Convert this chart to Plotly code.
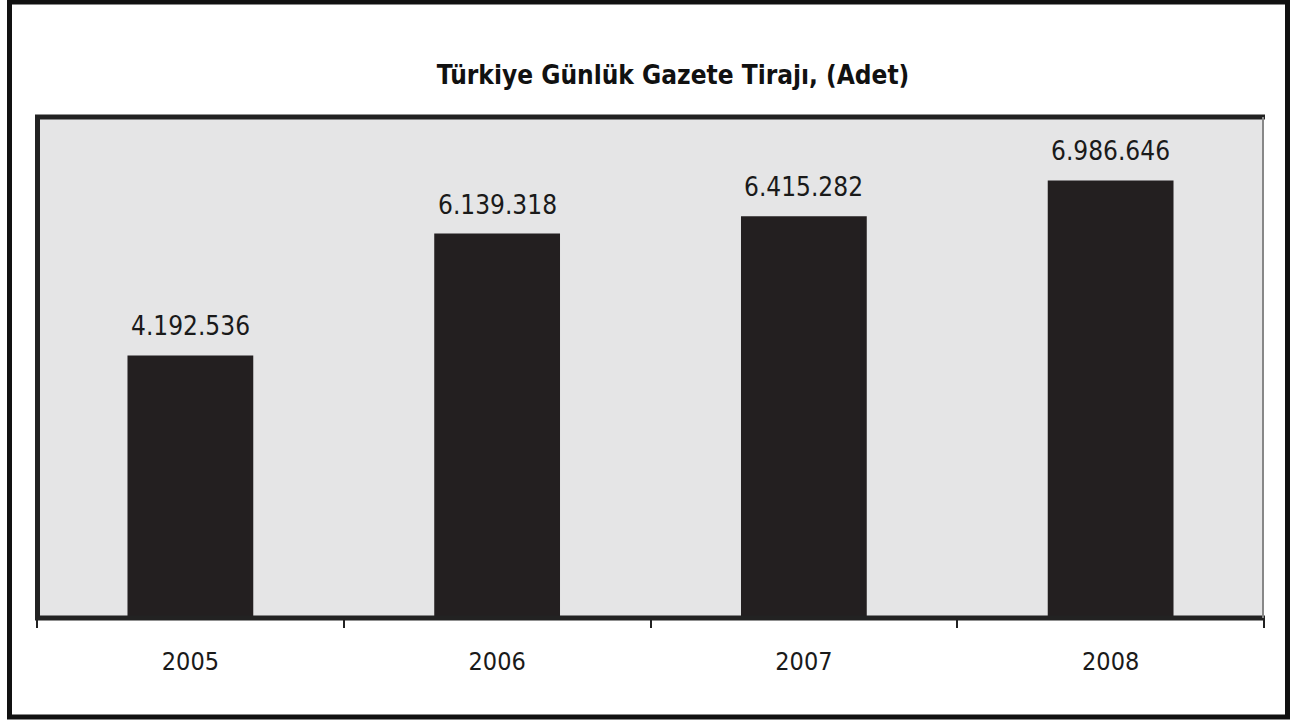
import plotly.graph_objects as go

years = ["2005", "2006", "2007", "2008"]
tiraj = [4192536, 6139318, 6415282, 6986646]
title_text = "Türkiye Günlük Gazete Tirajı, (Adet)"

W, H = 1293, 721
L, R, T, B = 37, 1264, 117, 618
pw, ph = R - L, B - T

FONT = "DejaVu Sans Condensed, Liberation Sans Narrow, Arial Narrow, sans-serif"

def px(x):
    return (x - L) / pw

def py(y):
    return (B - y) / ph

def fmt(v):
    return f"{v:,}".replace(",", ".")

fig = go.Figure(go.Bar(
    x=years, y=tiraj,
    marker=dict(color="#231f20", line=dict(width=0)),
))

annotations = [
    dict(x=i, y=v, xref="x", yref="y", text=fmt(v), showarrow=False,
         yanchor="bottom", xanchor="center", yshift=12,
         font=dict(family=FONT, size=26, color="#1a1a1a"))
    for i, v in enumerate(tiraj)
]

fig.update_layout(
    width=W, height=H,
    margin=dict(l=L, r=W - R, t=T, b=H - B),
    paper_bgcolor="white", plot_bgcolor="#e5e5e6",
    bargap=0.59,
    showlegend=False,
    annotations=annotations,
    title=dict(text="<b>" + title_text + "</b>", x=673 / W, xanchor="center",
               y=1 - 75 / H, yanchor="middle",
               font=dict(family=FONT, size=26, color="#111")),
    xaxis=dict(type="category", range=[-0.5, len(years) - 0.5], tickson="boundaries",
               ticks="outside", ticklen=9,
               tickwidth=1.5, tickcolor="#222", showline=False, showgrid=False,
               tickangle=0,
               tickfont=dict(family=FONT, size=25, color="#1a1a1a"),
               ticklabelstandoff=26),
    yaxis=dict(range=[0, 8000000], showticklabels=False, showgrid=False, zeroline=False, ticks=""),
)

shapes = [
    dict(type="rect", xref="paper", yref="paper", x0=px(9.5), x1=px(1287.5), y0=py(717), y1=py(2),
         line=dict(color="#111", width=5), fillcolor="rgba(0,0,0,0)", layer="above"),
    dict(type="line", xref="paper", yref="paper", x0=px(35), x1=px(1265), y0=1, y1=1,
         line=dict(color="#222", width=5)),
    dict(type="line", xref="paper", yref="paper", x0=px(37.5), x1=px(37.5), y0=0, y1=1,
         line=dict(color="#222", width=5)),
    dict(type="line", xref="paper", yref="paper", x0=px(35), x1=px(1265), y0=0, y1=0,
         line=dict(color="#222", width=5)),
    dict(type="line", xref="paper", yref="paper", x0=px(1263), x1=px(1263), y0=0, y1=1,
         line=dict(color="#888", width=2)),
]
fig.update_layout(shapes=shapes)

fig.write_html("out.html")
